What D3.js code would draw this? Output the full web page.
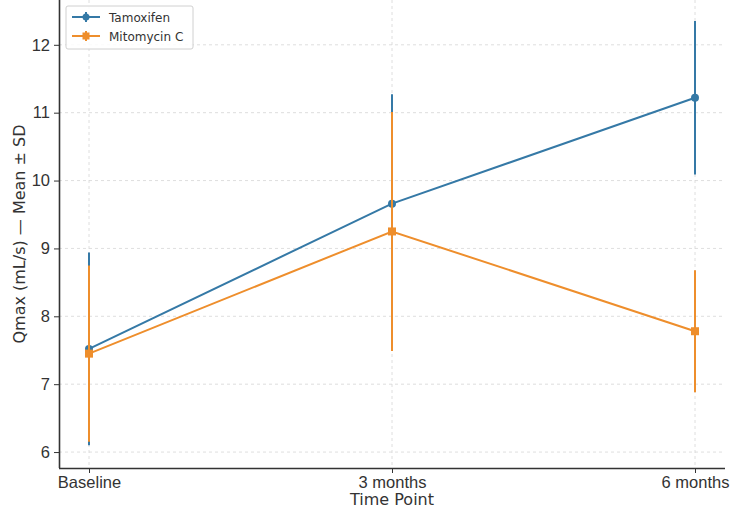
<!DOCTYPE html>
<html>
<head>
<meta charset="utf-8">
<script src="https://cdn.jsdelivr.net/npm/d3@7"></script>
<style>
  body { margin: 0; background: #fff; }
  svg { font-family: "DejaVu Sans", sans-serif; }
</style>
</head>
<body>
<div id="chart"></div>
<script>
const timePoints = ['Baseline', '3 months', '6 months'];
const tamoxifenMean = [7.52, 9.66, 11.22];
const tamoxifenSd = [1.42, 1.61, 1.13];
const mitomycinMean = [7.45, 9.25, 7.78];
const mitomycinSd = [1.30, 1.76, 0.90];
const yTicks = [6, 7, 8, 9, 10, 11, 12];

const series = [
  {name: 'Tamoxifen', mean: tamoxifenMean, sd: tamoxifenSd, color: '#3579a6', shape: 'circle'},
  {name: 'Mitomycin C', mean: mitomycinMean, sd: mitomycinSd, color: '#ee8e2c', shape: 'square'}
];

const W = 750, H = 524;
const pLeft = 59, pRight = 725, pTop = 0, pBottom = 468;

const svg = d3.select('#chart').append('svg').attr('width', W).attr('height', H);

const x = d3.scalePoint().domain(timePoints).range([89, 695]);
const y = d3.scaleLinear().domain([5.765, 12.66]).range([pBottom, pTop]);

// grid
const grid = svg.append('g').attr('stroke', '#d6d6d6').attr('stroke-dasharray', '3,3').attr('stroke-width', 0.8);
grid.selectAll('.gy').data(yTicks).enter().append('line')
  .attr('x1', pLeft).attr('x2', pRight).attr('y1', d => y(d)).attr('y2', d => y(d));
grid.selectAll('.gx').data(timePoints).enter().append('line')
  .attr('x1', d => x(d)).attr('x2', d => x(d)).attr('y1', pTop).attr('y2', pBottom);

// axes
const xAxis = svg.append('g').attr('transform', `translate(0,${pBottom})`)
  .call(d3.axisBottom(x).tickSize(5).tickPadding(3));
xAxis.select('.domain').attr('d', `M${pLeft},0.5H${pRight}`).attr('stroke', '#333').attr('stroke-width', 1.6);
xAxis.selectAll('.tick line').attr('stroke', '#333');
xAxis.selectAll('text').style('font-size', '16.5px').attr('fill', '#333');

const yAxis = svg.append('g').attr('transform', `translate(${pLeft},0)`)
  .call(d3.axisLeft(y).tickValues(yTicks).tickFormat(d3.format('d')).tickSize(5).tickPadding(4));
yAxis.select('.domain').attr('d', `M0.5,${pTop}V${pBottom}`).attr('stroke', '#333').attr('stroke-width', 1.6);
yAxis.selectAll('.tick line').attr('stroke', '#333');
yAxis.selectAll('text').style('font-size', '16.5px').attr('fill', '#333');

// labels
svg.append('text').attr('x', (pLeft + pRight) / 2).attr('y', 505).attr('text-anchor', 'middle')
  .style('font-size', '16px').attr('fill', '#333').text('Time Point');
svg.append('text').attr('transform', `translate(25,${(pTop + pBottom) / 2}) rotate(-90)`).attr('text-anchor', 'middle')
  .style('font-size', '16px').attr('fill', '#333').text('Qmax (mL/s) — Mean ± SD');

// series
const line = d3.line().x((d, i) => x(timePoints[i])).y(d => y(d));
series.forEach(s => {
  const g = svg.append('g');
  g.selectAll('.err').data(s.mean).enter().append('line')
    .attr('x1', (d, i) => x(timePoints[i])).attr('x2', (d, i) => x(timePoints[i]))
    .attr('y1', (d, i) => y(d - s.sd[i])).attr('y2', (d, i) => y(d + s.sd[i]))
    .attr('stroke', s.color).attr('stroke-width', 2);
  g.append('path').datum(s.mean).attr('d', line).attr('fill', 'none')
    .attr('stroke', s.color).attr('stroke-width', 2);
  if (s.shape === 'circle') {
    g.selectAll('.pt').data(s.mean).enter().append('circle')
      .attr('cx', (d, i) => x(timePoints[i])).attr('cy', d => y(d)).attr('r', 4).attr('fill', s.color);
  } else {
    g.selectAll('.pt').data(s.mean).enter().append('rect')
      .attr('x', (d, i) => x(timePoints[i]) - 4).attr('y', d => y(d) - 4)
      .attr('width', 8).attr('height', 8).attr('fill', s.color);
  }
});

// legend
const lg = svg.append('g').attr('transform', 'translate(66,6)');
lg.append('rect').attr('width', 127).attr('height', 43).attr('rx', 2)
  .attr('fill', '#fff').attr('fill-opacity', 0.85).attr('stroke', '#d0d0d0');
series.forEach((s, i) => {
  const row = lg.append('g').attr('transform', `translate(6,${11 + i * 19})`);
  row.append('line').attr('x1', 0).attr('x2', 28).attr('stroke', s.color).attr('stroke-width', 2);
  row.append('line').attr('x1', 14).attr('x2', 14).attr('y1', -5).attr('y2', 5).attr('stroke', s.color).attr('stroke-width', 2);
  if (s.shape === 'circle') row.append('circle').attr('cx', 14).attr('r', 3.5).attr('fill', s.color);
  else row.append('rect').attr('x', 10.5).attr('y', -3.5).attr('width', 7).attr('height', 7).attr('fill', s.color);
  row.append('text').attr('x', 37).attr('y', 4.5).style('font-size', '12px').attr('fill', '#333').text(s.name);
});
</script>
</body>
</html>
